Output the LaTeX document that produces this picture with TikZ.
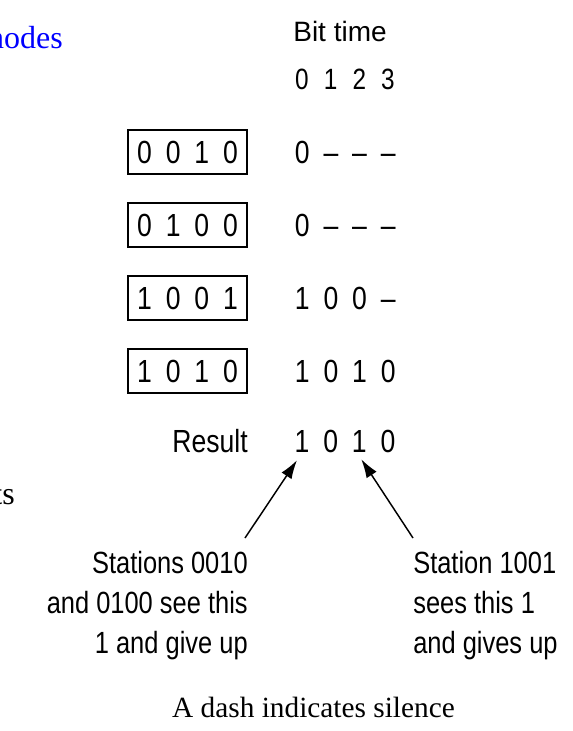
\documentclass[tikz,border=0pt]{standalone}
\usepackage{fontspec}
\setmainfont{Liberation Serif}
\setsansfont{Liberation Sans}
\newfontfamily\narrowsf[FakeStretch=0.83]{Liberation Sans}
\usetikzlibrary{arrows.meta}
\newcommand\bitrow[4]{\makebox[21.5pt]{#1}\makebox[21.5pt]{#2}\makebox[21.5pt]{#3}\makebox[21.5pt]{#4}}

\begin{document}
\begin{tikzpicture}[x=0.75pt,y=-0.75pt,
    bitbox/.style={draw, line width=1.1pt, minimum width=89pt, minimum height=33pt},
    bit/.style={inner sep=0pt, font=\narrowsf\fontsize{24}{28}\selectfont},
    note/.style={inner sep=0pt, font=\narrowsf\fontsize{23}{30}\selectfont},
    pointer/.style={line width=1.1pt, -{Latex[length=14pt,width=9pt]}}]
\clip (0,0) rectangle (573,731);

\node[anchor=base east, inner sep=0pt, text=blue, font=\fontsize{24}{28}\selectfont] (nodes) at (63,49) {nodes};
\node[anchor=base east, inner sep=0pt, font=\fontsize{24}{28}\selectfont] (ts) at (15,504) {ts};

\node[anchor=base, inner sep=0pt, font=\sffamily\fontsize{21}{25}\selectfont] (bittime) at (340,42) {Bit time};
\foreach \v [count=\j] in {0,...,3}
    \node[anchor=base, inner sep=0pt, font=\narrowsf\fontsize{22}{26}\selectfont] (h\j) at (273.3+28.67*\j,90) {\v};

\foreach \a/\b/\c/\d/\e/\f/\g/\h/\y [count=\i] in
    {0/0/1/0/0/–/–/–/163, 0/1/0/0/0/–/–/–/236, 1/0/0/1/1/0/0/–/309, 1/0/1/0/1/0/1/0/382}
{
    \node[bitbox, bit, anchor=base] (st\i) at (187.5,\y) {\bitrow{\a}{\b}{\c}{\d}};
    \node[bit, anchor=base west] (seen\i) at (287.7,\y) {\bitrow{\e}{\f}{\g}{\h}};
}

\node[bit, anchor=base east] (result) at (248,452) {Result};
\foreach \v [count=\j] in {1,0,1,0}
    \node[bit, anchor=base] (r\j) at (273.3+28.67*\j,452) {\v};

\node[note, align=right, anchor=north east] (lnote) at (248,551)
    {Stations 0010\\and 0100 see this\\1 and give up};
\node[note, align=left, anchor=north west] (rnote) at (413,551)
    {Station 1001\\sees this 1\\and gives up};

\coordinate (ltail) at (245,538);
\coordinate (rtail) at (413,538);
\draw[pointer] (ltail) -- ([shift={(-5,8)}]r1.south);
\draw[pointer] (rtail) -- ([shift={(2,7)}]r3.south);

\node[anchor=base, inner sep=0pt, font=\fontsize{22}{26}\selectfont] (caption) at (313.5,717) {A dash indicates silence};
\end{tikzpicture}
\end{document}
